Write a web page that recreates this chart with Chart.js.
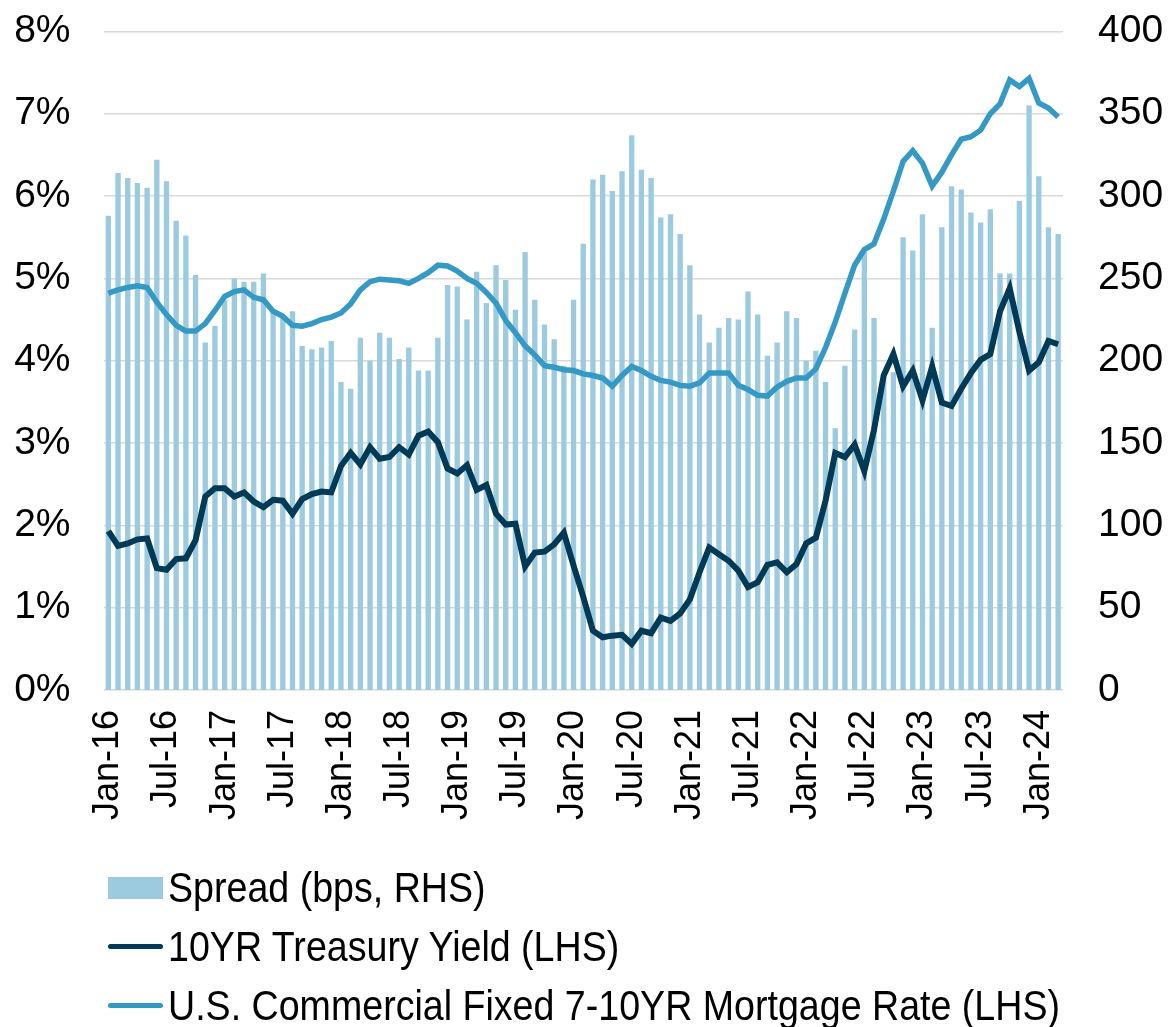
<!DOCTYPE html>
<html>
<head>
<meta charset="utf-8">
<title>Spread, 10YR Treasury and Commercial Mortgage Rate</title>
<script src="https://cdn.jsdelivr.net/npm/chart.js@4.4.1/dist/chart.umd.min.js"></script>
<style>
  body { margin: 0; background: #fff; }
  #wrap { position: relative; width: 1170px; height: 1027px; overflow: hidden; }
  #chart { position: absolute; left: 0; top: -27px; }
  #legend {
    position: absolute; left: 108px; top: 858px;
    font-family: "Liberation Sans", Arial, sans-serif;
    font-size: 42px; color: #000;
  }
  .item { display: flex; align-items: center; height: 59px; white-space: nowrap; }
  .mk { width: 55px; margin-right: 5px; flex: none; }
  .txt { display: inline-block; transform: scaleX(0.895); transform-origin: left center; }
</style>
</head>
<body>
<div id="wrap">
  <canvas id="chart" width="1170" height="887"></canvas>
  <div id="legend"></div>
</div>
<script>
/* ---------- Data (monthly, Jan-16 .. Mar-24) ---------- */
const months = [
  "Jan-16","Feb-16","Mar-16","Apr-16","May-16","Jun-16","Jul-16","Aug-16","Sep-16","Oct-16","Nov-16","Dec-16",
  "Jan-17","Feb-17","Mar-17","Apr-17","May-17","Jun-17","Jul-17","Aug-17","Sep-17","Oct-17","Nov-17","Dec-17",
  "Jan-18","Feb-18","Mar-18","Apr-18","May-18","Jun-18","Jul-18","Aug-18","Sep-18","Oct-18","Nov-18","Dec-18",
  "Jan-19","Feb-19","Mar-19","Apr-19","May-19","Jun-19","Jul-19","Aug-19","Sep-19","Oct-19","Nov-19","Dec-19",
  "Jan-20","Feb-20","Mar-20","Apr-20","May-20","Jun-20","Jul-20","Aug-20","Sep-20","Oct-20","Nov-20","Dec-20",
  "Jan-21","Feb-21","Mar-21","Apr-21","May-21","Jun-21","Jul-21","Aug-21","Sep-21","Oct-21","Nov-21","Dec-21",
  "Jan-22","Feb-22","Mar-22","Apr-22","May-22","Jun-22","Jul-22","Aug-22","Sep-22","Oct-22","Nov-22","Dec-22",
  "Jan-23","Feb-23","Mar-23","Apr-23","May-23","Jun-23","Jul-23","Aug-23","Sep-23","Oct-23","Nov-23","Dec-23",
  "Jan-24","Feb-24","Mar-24"
];

// spread, bps (right axis)
const spreadBps = [
  288, 314, 311, 308, 305, 322, 309, 285, 276, 252, 211, 221,
  237, 250, 248, 248, 253, 231, 226, 230, 209, 207, 208, 212,
  187, 183, 214, 200, 217, 214, 201, 208, 194, 194, 214, 246,
  245, 225, 254, 235, 258, 249, 231, 266, 237, 222, 213, 197,
  237, 271, 310, 313, 303, 315, 337, 316, 311, 287, 289, 277,
  258, 228, 211, 220, 226, 225, 242, 228, 203, 211, 230, 226,
  200, 206, 187, 159, 197, 219, 266, 226, 190, 193, 275, 267,
  289, 220, 281, 306, 304, 290, 284, 292, 253, 253, 297, 355,
  312, 281, 277
];

// 10YR treasury yield, % (left axis)
const treasury10y = [
  1.93, 1.75, 1.78, 1.83, 1.84, 1.48, 1.46, 1.59, 1.60, 1.82, 2.35, 2.45,
  2.45, 2.35, 2.40, 2.29, 2.22, 2.31, 2.30, 2.14, 2.32, 2.38, 2.41, 2.40,
  2.72, 2.88, 2.74, 2.95, 2.81, 2.83, 2.95, 2.86, 3.09, 3.14, 3.01, 2.69,
  2.63, 2.73, 2.43, 2.49, 2.14, 2.01, 2.02, 1.50, 1.67, 1.68, 1.77, 1.91,
  1.51, 1.13, 0.72, 0.64, 0.66, 0.67, 0.56, 0.72, 0.69, 0.88, 0.84, 0.93,
  1.10, 1.43, 1.73, 1.65, 1.57, 1.45, 1.25, 1.31, 1.52, 1.55, 1.43, 1.53,
  1.78, 1.85, 2.30, 2.88, 2.83, 2.98, 2.66, 3.16, 3.82, 4.08, 3.69, 3.88,
  3.52, 3.93, 3.49, 3.45, 3.66, 3.85, 4.01, 4.08, 4.60, 4.88, 4.35, 3.88,
  3.98, 4.24, 4.20
];

// U.S. commercial fixed 7-10YR mortgage rate, % (left axis)
const mortgage7to10 = [
  4.82, 4.86, 4.89, 4.91, 4.89, 4.71, 4.56, 4.43, 4.36, 4.36, 4.45, 4.61,
  4.78, 4.84, 4.86, 4.77, 4.74, 4.60, 4.54, 4.43, 4.42, 4.45, 4.50, 4.53,
  4.58, 4.69, 4.86, 4.96, 4.99, 4.98, 4.97, 4.94, 5.00, 5.07, 5.16, 5.15,
  5.09, 5.00, 4.94, 4.83, 4.70, 4.49, 4.34, 4.18, 4.07, 3.94, 3.92, 3.89,
  3.88, 3.84, 3.82, 3.79, 3.69, 3.82, 3.93, 3.88, 3.81, 3.76, 3.74, 3.70,
  3.69, 3.73, 3.85, 3.85, 3.85, 3.70, 3.65, 3.58, 3.57, 3.68, 3.75, 3.79,
  3.79, 3.90, 4.16, 4.47, 4.82, 5.16, 5.35, 5.42, 5.72, 6.06, 6.42, 6.55,
  6.40, 6.12, 6.29, 6.50, 6.69, 6.72, 6.80, 7.00, 7.12, 7.41, 7.33, 7.43,
  7.13, 7.07, 6.96
];

const xTickLabels = ["Jan-16","Jul-16","Jan-17","Jul-17","Jan-18","Jul-18","Jan-19","Jul-19",
  "Jan-20","Jul-20","Jan-21","Jul-21","Jan-22","Jul-22","Jan-23","Jul-23","Jan-24"];
const leftTicks = [0, 1, 2, 3, 4, 5, 6, 7, 8];
const rightTicks = [0, 50, 100, 150, 200, 250, 300, 350, 400];

const seriesNames = ["Spread (bps, RHS)", "10YR Treasury Yield (LHS)",
  "U.S. Commercial Fixed 7-10YR Mortgage Rate (LHS)"];

/* ---------- Styles ---------- */
const COL_BAR = "#9ccbe0";
const COL_TSY = "#003a57";
const COL_MTG = "#3599c6";
const FONT_FAMILY = "'Liberation Sans', Arial, sans-serif";

const ctx = document.getElementById("chart");

const chart = new Chart(ctx, {
  data: {
    labels: months,
    datasets: [
      {
        type: "line", label: seriesNames[1], data: treasury10y, yAxisID: "y",
        borderColor: COL_TSY, borderWidth: 6, pointRadius: 0, tension: 0, order: 1
      },
      {
        type: "line", label: seriesNames[2], data: mortgage7to10, yAxisID: "y",
        borderColor: COL_MTG, borderWidth: 5.5, pointRadius: 0, tension: 0, order: 0
      },
      {
        type: "bar", label: seriesNames[0], data: spreadBps, yAxisID: "y1",
        backgroundColor: COL_BAR, barPercentage: 0.55, categoryPercentage: 1, order: 2
      }
    ]
  },
  options: {
    responsive: false,
    animation: false,
    devicePixelRatio: 1,
    layout: { padding: { top: 6, left: 0, right: 0, bottom: 0 } },
    plugins: { legend: { display: false }, tooltip: { enabled: false } },
    scales: {
      x: {
        offset: true,
        grid: { display: false, drawTicks: false },
        border: { display: false },
        ticks: {
          autoSkip: false, maxRotation: 90, minRotation: 90, padding: 20,
          color: "#000", font: { family: FONT_FAMILY, size: 36 },
          callback: function (v, i) { return xTickLabels.includes(months[i]) ? months[i] : ""; }
        },
        afterFit: function (s) { s.height = 170; }
      },
      y: {
        position: "left",
        min: leftTicks[0], max: leftTicks[leftTicks.length - 1],
        ticks: {
          stepSize: leftTicks[1] - leftTicks[0], padding: 33,
          color: "#000", font: { family: FONT_FAMILY, size: 39 },
          callback: function (v) { return v + "%"; }
        },
        grid: { color: "#d9d9d9", lineWidth: 1.5, drawTicks: false },
        border: { display: false },
        afterFit: function (s) { s.width = 103.5; }
      },
      y1: {
        position: "right",
        min: rightTicks[0], max: rightTicks[rightTicks.length - 1],
        ticks: {
          stepSize: rightTicks[1] - rightTicks[0], padding: 35,
          color: "#000", font: { family: FONT_FAMILY, size: 39 }
        },
        grid: { display: false, drawTicks: false },
        border: { display: false },
        afterFit: function (s) { s.width = 107; }
      }
    }
  }
});

/* ---------- Legend (one item per row, like the source) ---------- */
const legend = document.getElementById("legend");
const legendOrder = [2, 0, 1];
legendOrder.forEach(function (di) {
  const ds = chart.data.datasets[di];
  const row = document.createElement("div");
  row.className = "item";
  const mk = document.createElement("span");
  mk.className = "mk";
  if (ds.type === "bar") {
    mk.style.height = "22px";
    mk.style.background = ds.backgroundColor;
  } else {
    mk.style.height = "5px";
    mk.style.borderRadius = "3px";
    mk.style.background = ds.borderColor;
  }
  const txt = document.createElement("span");
  txt.className = "txt";
  txt.textContent = ds.label;
  row.appendChild(mk);
  row.appendChild(txt);
  legend.appendChild(row);
});
</script>
</body>
</html>
